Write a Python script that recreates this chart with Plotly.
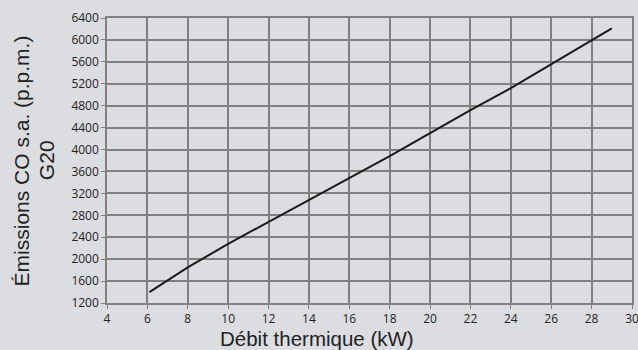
import plotly.graph_objects as go

# Débit thermique (kW) vs émissions CO s.a. (p.p.m.), G20
debit_kw = [6.1, 8, 10, 12, 14, 16, 18, 20, 22, 24, 26, 28, 29]
emissions_co = [1400, 1850, 2280, 2680, 3090, 3480, 3880, 4300, 4720, 5120, 5560, 5995, 6210]

x_ticks = list(range(4, 31, 2))
y_ticks = list(range(1200, 6401, 400))

x_title = 'Débit thermique (kW)'
y_title_lines = ['Émissions CO s.a. (p.p.m.)', 'G20']

BG = '#dcdde0'
GRID = '#808080'
TITLE_FONT = dict(family='Liberation Sans', size=21, color='#222222')

fig = go.Figure(
    go.Scatter(
        x=debit_kw,
        y=emissions_co,
        mode='lines',
        line=dict(color='#1a1a1a', width=2),
        showlegend=False,
    )
)

fig.update_layout(
    width=638,
    height=350,
    paper_bgcolor=BG,
    plot_bgcolor=BG,
    margin={"l": 107, "r": 6, "t": 18, "b": 47},
    font=dict(family='Open Sans', size=12, color='#222222'),
)

axis_style = dict(
    showgrid=True,
    gridcolor=GRID,
    gridwidth=1.5,
    showline=True,
    linecolor=GRID,
    linewidth=1.5,
    mirror=True,
    ticks='outside',
    ticklen=4,
    tickcolor=GRID,
    zeroline=False,
    automargin=False,
    ticklabeloverflow='allow',
)

fig.update_xaxes(range=[4, 30], tickvals=x_ticks, **axis_style)
fig.update_yaxes(range=[1200, 6400], tickvals=y_ticks, **axis_style)

# titles as annotations: the original has them off-centre and tightly spaced
fig.add_annotation(
    text=x_title, font={**TITLE_FONT, 'size': 20.5},
    xref='paper', yref='paper', x=0.4, y=-0.124,
    xanchor='center', yanchor='middle', showarrow=False, borderpad=0,
)
for line, xpos in zip(y_title_lines, [-0.162, -0.115]):
    fig.add_annotation(
        text=line, textangle=-90, font=TITLE_FONT,
        xref='paper', yref='paper', x=xpos, y=0.5,
        xanchor='center', yanchor='middle', showarrow=False,
    )

# the page's default body margin would shift the 638x350 figure
fig.write_html(
    "out.html",
    config={'displayModeBar': False},
    post_script="document.body.style.margin = '0';",
)
